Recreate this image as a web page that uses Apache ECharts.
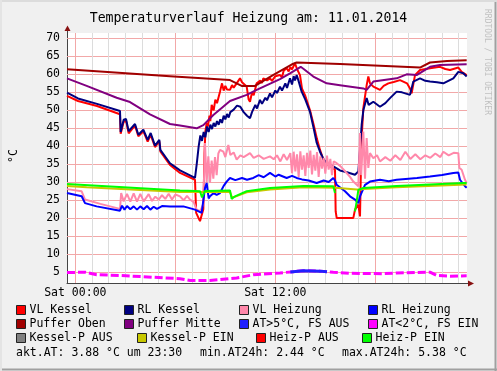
<!DOCTYPE html>
<html><head><meta charset="utf-8">
<script src="https://cdn.jsdelivr.net/npm/echarts@6/dist/echarts.min.js"></script>
<style>html,body{margin:0;padding:0;background:#f0f0f0}#c{width:497px;height:371px}</style>
</head><body><div id="c"></div>
<script>
// ---------- DATA (hours since Sat 00:00, °C) ----------
const titleText = 'Temperaturverlauf Heizung am: 11.01.2014';
const yTicks = [5,10,15,20,25,30,35,40,45,50,55,60,65,70];
const hourTicks = [0,1,2,3,4,5,6,7,8,9,10,11,12,13,14,15,16,17,18,19,20,21,22,23];
const xTickLabels = [[0,'Sat 00:00'],[12,'Sat 12:00']];
const statTexts = ['akt.AT: 3.88 °C um 23:30','min.AT24h: 2.44 °C','max.AT24h: 5.38 °C'];

const vlKessel = [[-0.5,54.0],[0.16,52.6],[1.3,51.2],[2.68,48.9],[2.72,43.5],[2.9,46.8],[3.04,47.2],[3.2,43.6],[3.28,43.5],[3.58,45.8],[3.78,42.8],[4.08,44.2],[4.34,41.3],[4.52,43.2],[4.78,39.8],[5.04,41.4],[5.1,38.6],[5.68,34.8],[6.28,32.6],[7.18,30.7],[7.25,21.5],[7.48,19.2],[7.58,19.6],[7.68,22.5],[7.75,38],[7.8,44],[7.88,46.5],[7.95,45.5],[8.05,48.5],[8.1,47],[8.18,51.5],[8.3,50],[8.4,53],[8.5,52],[8.68,55.2],[8.8,57.5],[8.9,55.5],[9.0,56.8],[9.1,55.8],[9.28,55.7],[9.4,57],[9.5,56.3],[9.68,57.5],[9.88,58.9],[10.0,57.8],[10.28,56.6],[10.4,53],[10.48,52.4],[10.6,55],[10.7,54.2],[10.88,57.5],[11.1,58.3],[11.2,57.6],[11.28,58.9],[11.5,58.3],[11.68,58.9],[11.8,58.2],[12.0,59.5],[12.28,59.8],[12.4,59.2],[12.5,61],[12.68,61.7],[12.8,60.8],[12.9,62],[13.0,61.4],[13.18,63.1],[13.3,61.5],[13.48,59.8],[13.6,56],[13.8,54],[14.08,50],[14.3,46],[14.5,42],[14.68,39],[14.88,36.3],[15.08,35],[15.3,34.5],[15.58,33.5],[15.62,21.9],[15.68,20.1],[16.68,20.1],[16.78,22.4],[16.98,23.8],[17.08,20.5],[17.12,30],[17.18,42.3],[17.28,50.6],[17.48,57.0],[17.58,59.4],[17.68,57.5],[17.88,56.6],[18.28,55.7],[18.5,56.8],[18.78,57.5],[19.1,57.9],[19.48,58.4],[19.9,57.5],[20.08,56.1],[20.18,54.7],[20.38,59.8],[20.68,61.2],[21.28,61.7],[21.88,62.1],[22.2,61.5],[22.48,61.2],[22.98,61.9],[23.18,60.7],[23.48,59.8]];

const rlKessel = [[-0.5,54.9],[0.16,53.3],[1.3,51.8],[2.68,49.8],[2.72,44.0],[2.9,47.4],[3.04,47.6],[3.2,44.2],[3.28,44.0],[3.58,46.2],[3.78,43.2],[4.08,44.6],[4.34,41.8],[4.52,43.7],[4.78,40.2],[5.04,41.8],[5.1,39.0],[5.68,35.3],[6.28,33.3],[7.18,31.2],[7.28,34.9],[7.4,40],[7.5,43],[7.6,41.5],[7.7,44],[7.8,42.5],[7.9,45.5],[8.0,44],[8.1,46],[8.2,44.8],[8.3,46.5],[8.4,45.5],[8.5,47],[8.6,46],[8.7,47.5],[8.8,46.5],[8.9,48.5],[9.0,47.5],[9.1,49],[9.2,48],[9.3,49.5],[9.5,50.2],[9.7,51.3],[9.9,51.0],[10.1,49.5],[10.3,48.5],[10.48,47.8],[10.6,49.5],[10.8,51.5],[10.9,50.5],[11.08,52.9],[11.2,51.8],[11.4,53.5],[11.5,52.8],[11.68,54.7],[11.8,53.6],[12.0,55.5],[12.1,54.8],[12.28,56.6],[12.4,55.5],[12.6,57.5],[12.7,56.2],[12.88,58.9],[13.0,57.2],[13.1,59.5],[13.18,58.3],[13.28,59.8],[13.38,58.4],[13.58,55.2],[13.8,53],[14.08,49.6],[14.3,45],[14.48,41],[14.68,38.5],[14.88,36.5],[15.08,35.3],[15.48,34.4],[15.88,33.3],[16.3,32.8],[16.78,32.1],[16.9,31.6],[16.98,33],[17.08,39],[17.18,46],[17.28,50],[17.48,53.4],[17.6,51.5],[17.88,52.4],[18.28,51.0],[18.6,52],[18.88,53.4],[19.28,55.2],[19.6,55],[20.08,54.3],[20.28,58.0],[20.68,58.9],[21.0,58.2],[21.28,58.0],[21.7,57.8],[22.08,57.5],[22.68,58.9],[22.98,60.7],[23.28,60.3],[23.48,59.4]];

const vlHeizung = [[-0.5,28.1],[0.38,27.5],[0.58,25.2],[1.5,24.0],[2.68,22.6],[2.75,27.0],[2.9,24.7],[3.1,26.8],[3.3,24.6],[3.5,26.9],[3.7,24.6],[3.9,26.8],[4.1,24.7],[4.4,26.7],[4.6,24.8],[4.8,26.0],[5.0,25.2],[5.2,26.4],[5.4,25.4],[5.6,26.8],[5.8,25.2],[6.0,26.6],[6.28,26.1],[6.5,25.0],[6.7,26.2],[6.88,25.2],[7.1,24.5],[7.28,22.4],[7.5,22],[7.68,24],[7.78,40.9],[7.88,30],[7.98,37.2],[8.08,29.9],[8.18,36],[8.28,31],[8.38,37],[8.48,32],[8.58,38],[8.68,39.0],[8.88,38.5],[9.0,37.0],[9.18,40.4],[9.3,37.6],[9.5,38.3],[9.68,36.3],[9.9,37.5],[10.1,37.0],[10.48,38.1],[10.7,36.8],[11.0,37.5],[11.3,36.5],[11.68,37.2],[11.9,36.4],[12.1,37.5],[12.3,35.8],[12.5,37.8],[12.7,36.2],[12.9,38.1],[13.0,32.5],[13.1,38.5],[13.2,33],[13.3,37.8],[13.4,31.5],[13.5,38.6],[13.6,33.5],[13.7,37.5],[13.8,31.8],[13.9,38.2],[14.0,34],[14.1,38.8],[14.2,32.2],[14.3,37.6],[14.4,33.2],[14.5,38.4],[14.6,31.5],[14.7,37.2],[14.8,33.8],[14.9,36.8],[15.0,32.4],[15.1,37.4],[15.2,33.5],[15.3,36.5],[15.4,32],[15.5,35.8],[15.68,35.3],[15.9,34.5],[16.2,33],[16.48,31.5],[16.68,30.2],[16.98,28.9],[17.08,43.7],[17.15,32],[17.28,44.1],[17.38,31],[17.48,42.3],[17.58,34],[17.68,38.1],[17.88,36.7],[18.1,37.5],[18.28,35.8],[18.6,37],[18.9,36],[19.2,37.5],[19.5,36.2],[19.8,38.5],[20.1,36.5],[20.4,37.8],[20.7,36.4],[21.0,37.5],[21.3,36.8],[21.6,38],[21.9,37],[22.08,38.5],[22.4,37.5],[22.7,38.2],[22.98,38.1],[23.04,34],[23.18,33.5],[23.38,30.7],[23.48,29.8]];

const rlHeizung = [[-0.5,27.0],[0.38,26.1],[0.58,24.2],[1.28,23.3],[2.68,22.1],[2.8,23.5],[2.95,22.4],[3.1,23.4],[3.3,22.5],[3.5,23.3],[3.7,22.4],[3.9,23.3],[4.1,22.5],[4.3,23.4],[4.5,22.4],[4.7,23.2],[4.9,22.6],[5.2,23.4],[5.68,23.3],[6.48,23.3],[7.18,22.4],[7.58,21.5],[7.78,28.4],[7.88,29.8],[8.0,25.5],[8.08,26.1],[8.3,27],[8.48,26.5],[8.68,27.0],[8.9,29],[9.08,30.2],[9.28,31.2],[9.6,30.6],[10.0,31.2],[10.3,30.7],[10.68,31.2],[11.0,32],[11.3,31.4],[11.68,32.6],[12.0,31.6],[12.2,32.1],[12.68,31.2],[13.0,31.8],[13.28,31.2],[13.6,30.8],[14.0,30.5],[14.48,29.8],[14.9,30.5],[15.2,30.1],[15.48,31.2],[15.58,30.5],[15.68,29.3],[16.18,27.5],[16.48,26.1],[16.78,25.2],[16.98,24.2],[17.08,26.1],[17.38,29.3],[17.68,30.2],[18.28,30.7],[18.8,30.3],[19.28,30.7],[20.0,31.0],[20.5,31.2],[21.28,31.6],[22.0,32.0],[22.68,32.6],[22.98,32.7],[23.08,30.7],[23.38,28.9],[23.48,28.5]];

const pufferOben = [[-0.5,61.4],[5.68,59.5],[9.28,58.4],[9.98,56.8],[10.78,56.8],[11.86,59.8],[13.0,62.8],[13.28,63.3],[15.88,62.9],[20.68,61.9],[21.28,63.3],[22.3,63.7],[23.48,63.9]];

const pufferMitte = [[-0.5,58.9],[0.68,56.8],[2.48,53.5],[3.28,52.3],[4.48,48.9],[5.68,46.2],[6.28,45.8],[7.28,45.0],[7.68,45.9],[8.28,48.7],[9.28,52.6],[10.28,54.3],[10.88,55.7],[12.28,58.7],[12.88,60.3],[13.52,62.1],[13.7,61.5],[14.28,59.4],[15.08,57.5],[15.88,57.0],[17.28,56.1],[17.48,55.7],[17.88,58.0],[19.28,58.9],[19.88,60.0],[20.48,59.8],[21.28,62.1],[21.88,62.6],[23.48,62.8]];

const atAbove5 = [[12.9,5.05],[13.68,5.4],[14.68,5.3],[15.1,5.1]];
const atBelow2 = [[-0.5,4.9],[0.6,5.0],[1.28,4.3],[2.68,4.1],[4.68,3.6],[6.28,3.2],[6.88,2.7],[8.08,2.7],[9.68,3.4],[10.68,4.3],[12.28,4.8],[13.68,5.4],[14.68,5.3],[15.48,5.0],[16.5,4.7],[18.5,4.6],[19.28,4.8],[21.28,5.0],[21.68,4.1],[22.48,3.9],[23.48,4.0]];

const kesselPAus = [];
const kesselPEin = [[-0.5,29.0],[0.68,28.6],[6.28,27.3],[7.2,27.4],[7.7,27.3],[9.28,27.3],[9.4,25.8],[9.6,26.0],[10.28,27.2],[11.68,28.0],[13.68,28.6],[15.58,28.5],[17.08,27.9],[17.28,28.1],[19.28,28.6],[23.48,29.4]];
const heizPAus = [];
const heizPEin = [[-0.5,29.5],[6.28,27.7],[7.2,27.6],[7.48,27.5],[7.6,25.8],[7.68,26.1],[7.78,27.6],[9.28,27.7],[9.38,25.4],[9.58,26.1],[10.28,27.5],[11.68,28.4],[13.68,29.0],[15.48,28.9],[15.58,27.0],[15.6,null],[16.76,null],[16.78,21.9],[16.88,24.7],[16.98,27.9],[17.28,28.4],[19.28,29.0],[23.28,29.8],[23.48,29.8]];

// ---------- STYLE / LAYOUT ----------
const FONT = 'DejaVu Sans Mono';
const G = {left:67, right:30, top:33, bottom:88};
const X0 = 67, X1 = 467, Y0 = 283, Y1 = 33;

const defs = [
  ['VL Kessel', vlKessel, '#ff0000'],
  ['RL Kessel', rlKessel, '#000080'],
  ['VL Heizung', vlHeizung, '#ff88aa'],
  ['RL Heizung', rlHeizung, '#0000ff'],
  ['Puffer Oben', pufferOben, '#a00000'],
  ['Puffer Mitte', pufferMitte, '#800080'],
  ['AT<2°C, FS EIN', atBelow2, '#ff00ff', {lineStyle:{type:[8,3], width:3}}],
  ['AT>5°C, FS AUS', atAbove5, '#2020ff', {lineStyle:{width:3}}],
  ['Kessel-P AUS', kesselPAus, '#808080'],
  ['Kessel-P EIN', kesselPEin, '#c8c800'],
  ['Heiz-P AUS', heizPAus, '#ff0000'],
  ['Heiz-P EIN', heizPEin, '#00ff00']
];

const series = [];
const gridLines = [];
yTicks.forEach(v => gridLines.push({yAxis: v, lineStyle:{color:'#f2a8a8'}, label:{show:true, position:'start', distance:7, formatter: String(v)}}));
hourTicks.forEach(h => {
  const lab = xTickLabels.find(t => t[0] === h);
  gridLines.push({xAxis: h, lineStyle:{color: h % 6 === 0 ? '#f2a8a8' : '#dcdcdc'},
    label: lab ? {show:true, position:'start', distance:4, formatter: lab[1]} : {show:false}});
});
series.push({type:'line', name:'_grid', data:[], z:1, silent:true, animation:false,
  markLine:{z:1, silent:true, animation:false, symbol:'none',
    lineStyle:{type:'solid', width:1},
    label:{color:'#000', fontFamily:FONT, fontSize:11.5},
    emphasis:{disabled:true}, data: gridLines}});

defs.forEach(d => {
  const s = {type:'line', name:d[0], data:d[1], symbol:'none', showSymbol:false, animation:false, z:2,
    connectNulls:false, itemStyle:{color:d[2]}, lineStyle:{color:d[2], width:2}, emphasis:{disabled:true}};
  if (d[3]) s.lineStyle = Object.assign(s.lineStyle, d[3].lineStyle);
  series.push(s);
});

const legendRows = [
  ['VL Kessel','RL Kessel','VL Heizung','RL Heizung'],
  ['Puffer Oben','Puffer Mitte','AT>5°C, FS AUS','AT<2°C, FS EIN'],
  ['Kessel-P AUS','Kessel-P EIN','Heiz-P AUS','Heiz-P EIN']];
const legendCols = [[16,124,239,368],[16,124,239,368],[16,137,256,362]];
const legendTop = [304,318,332];
const legends = [];
legendRows.forEach((row, r) => row.forEach((name, c) => {
  legends.push({data:[name], left: legendCols[r][c], top: legendTop[r], padding:0, itemGap:0,
    icon:'rect', itemWidth:9, itemHeight:9, selectedMode:false,
    itemStyle:{borderColor:'#222', borderWidth:1, borderType:'solid'},
    textStyle:{fontFamily:FONT, fontSize:11.5, color:'#000', padding:[0,0,0,-1]}});
}));

const statX = [16, 200, 342];
const graphic = [
  {type:'line', shape:{x1:X0+0.5, y1:Y1, x2:X0+0.5, y2:29}, style:{stroke:'#444', lineWidth:1}, z:10},
  {type:'polygon', shape:{points:[[64.5,31],[70.5,31],[67.5,25.5]]}, style:{fill:'#881111'}, z:10},
  {type:'line', shape:{x1:X1, y1:Y0+0.5, x2:470, y2:Y0+0.5}, style:{stroke:'#444', lineWidth:1}, z:10},
  {type:'polygon', shape:{points:[[468,280.5],[468,286.5],[474,283.5]]}, style:{fill:'#881111'}, z:10},
  {type:'text', x:14, y:156, rotation:Math.PI/2, style:{text:'°C', font:'11.5px "'+FONT+'"', fill:'#000', align:'center', verticalAlign:'middle'}},
  {type:'text', x:487, y:62, rotation:-Math.PI/2, style:{text:'RRDTOOL / TOBI OETIKER', font:'8px "'+FONT+'"', fill:'#c0c0c0', align:'center', verticalAlign:'middle'}},
  {type:'line', shape:{x1:495.5, y1:0, x2:495.5, y2:371}, style:{stroke:'#a0a0a0', lineWidth:2}},
  {type:'line', shape:{x1:0, y1:369.5, x2:497, y2:369.5}, style:{stroke:'#a0a0a0', lineWidth:2}},
  {type:'line', shape:{x1:0, y1:1, x2:497, y2:1}, style:{stroke:'#dcdcdc', lineWidth:2}},
  {type:'line', shape:{x1:1, y1:0, x2:1, y2:371}, style:{stroke:'#e4e4e4', lineWidth:2}}
];
statTexts.forEach((t, i) => graphic.push({type:'text', x:statX[i], y:353,
  style:{text:t, font:'11.5px "'+FONT+'"', fill:'#000', verticalAlign:'middle'}}));

const chart = echarts.init(document.getElementById('c'), null, {renderer:'canvas'});
chart.setOption({
  backgroundColor:'#f0f0f0',
  animation:false,
  title:{text:titleText, left:'center', top:7, textStyle:{fontFamily:FONT, fontSize:13.2, fontWeight:'normal', color:'#000'}},
  grid:Object.assign({show:true, backgroundColor:'#ffffff', borderWidth:0, containLabel:false}, G),
  xAxis:{type:'value', min:-0.5, max:23.5, axisLabel:{show:false}, axisTick:{show:false}, splitLine:{show:false},
    axisLine:{show:true, onZero:false, lineStyle:{color:'#444', width:1}}},
  yAxis:{type:'value', min:2, max:71.5, axisLabel:{show:false}, axisTick:{show:false}, splitLine:{show:false},
    axisLine:{show:true, onZero:false, lineStyle:{color:'#444', width:1}}},
  legend: legends,
  tooltip:{show:false},
  graphic: graphic,
  series: series
});
</script></body></html>
